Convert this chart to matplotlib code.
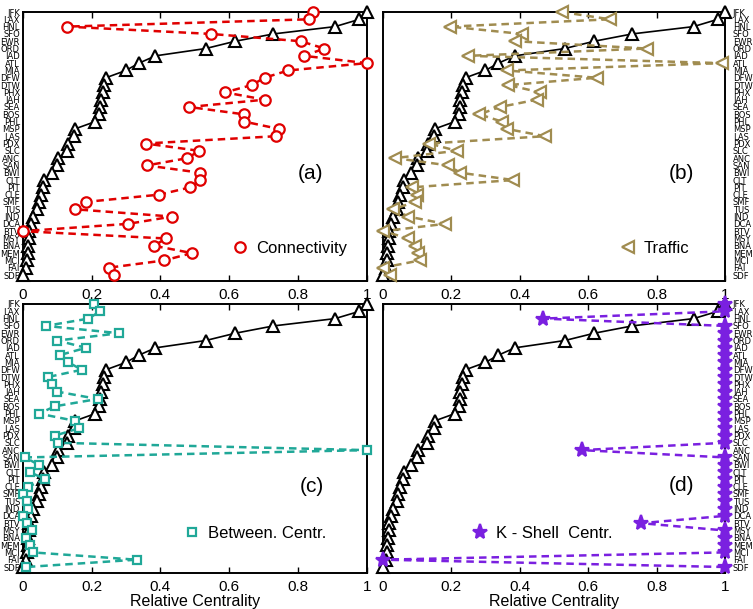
import numpy as np
import matplotlib
matplotlib.use('Agg')
import matplotlib.pyplot as plt
from matplotlib.lines import Line2D

plt.rcParams['font.family'] = ['Liberation Sans', 'DejaVu Sans']

airports = ['JFK', 'LAX', 'HNL', 'SFO', 'EWR', 'ORD', 'IAD', 'ATL', 'MIA', 'DFW',
            'DTW', 'PHX', 'IAH', 'SEA', 'BOS', 'PHL', 'MSP', 'LAS', 'PDX', 'SLC',
            'ANC', 'SAN', 'BWI', 'CLT', 'PIT', 'CLE', 'SMF', 'TUS', 'IND', 'DCA',
            'BTV', 'MSY', 'BNA', 'MEM', 'MCI', 'FAI', 'SDF']

# reference curve (black triangles), same in every panel
reference = [1.0, 0.979, 0.908, 0.729, 0.618, 0.532, 0.386, 0.338, 0.300, 0.242,
             0.236, 0.232, 0.227, 0.225, 0.223, 0.211, 0.152, 0.149, 0.133, 0.130,
             0.104, 0.099, 0.084, 0.063, 0.058, 0.052, 0.046, 0.041, 0.029, 0.024,
             0.019, 0.017, 0.015, 0.014, 0.013, 0.010, 0.0]

connectivity = [0.843, 0.832, 0.128, 0.547, 0.808, 0.877, 0.818, 1.0, 0.772, 0.703,
                0.666, 0.588, 0.703, 0.484, 0.642, 0.644, 0.744, 0.737, 0.357, 0.513,
                0.479, 0.361, 0.516, 0.516, 0.487, 0.397, 0.183, 0.151, 0.434, 0.306,
                0.0, 0.416, 0.382, 0.492, 0.412, 0.250, 0.265]

traffic = [0.523, 0.664, 0.197, 0.406, 0.387, 0.771, 0.250, 0.990, 0.362, 0.625,
           0.367, 0.460, 0.450, 0.343, 0.282, 0.348, 0.362, 0.474, 0.136, 0.216,
           0.036, 0.192, 0.226, 0.382, 0.085, 0.099, 0.094, 0.031, 0.075, 0.182,
           0.002, 0.075, 0.094, 0.104, 0.109, 0.0, 0.021]

betweenness = [0.208, 0.225, 0.191, 0.067, 0.281, 0.101, 0.184, 0.107, 0.133, 0.172,
               0.073, 0.086, 0.101, 0.218, 0.094, 0.047, 0.153, 0.164, 0.095, 0.102,
               1.0, 0.007, 0.046, 0.021, 0.065, 0.016, 0.002, 0.012, 0.016, 0.0,
               0.012, 0.026, 0.010, 0.021, 0.029, 0.331, 0.010]

kshell = [1.0, 1.0, 0.469, 1.0, 1.0, 1.0, 1.0, 1.0, 1.0, 1.0,
          1.0, 1.0, 1.0, 1.0, 1.0, 1.0, 1.0, 1.0, 1.0, 1.0,
          0.581, 1.0, 1.0, 1.0, 1.0, 1.0, 1.0, 1.0, 1.0, 1.0,
          0.755, 1.0, 1.0, 1.0, 1.0, 0.0, 1.0]

rows = np.arange(len(airports))

W, H = 753, 609
fig = plt.figure(figsize=(W / 100, H / 100), dpi=100)

def px_axes(left, right, top, bottom):
    return fig.add_axes([left / W, 1 - bottom / H, (right - left) / W, (bottom - top) / H])

panels = [
    # rect, values, marker, size, color, label, ylabels side, tag, tag pos, legend anchor
    ((22.7, 366.7, 12, 281), connectivity, 'o', 7.5, '#e00000', 'Connectivity',
     'left', '(a)', (0.837, 0.401), (0.6076, 0.1216), False),
    ((382.7, 725, 12, 281), traffic, '<', 9, '#a08c50', 'Traffic',
     'right', '(b)', (0.8735, 0.401), (0.693, 0.1216), False),
    ((22.7, 366.7, 304, 573), betweenness, 's', 5.5, '#20a898', 'Between. Centr.',
     'left', '(c)', (0.84, 0.32), (0.467, 0.1476), True),
    ((382.7, 725, 304, 573), kshell, '*', 11, '#7a20e0', 'K - Shell  Centr.',
     'right', '(d)', (0.8735, 0.327), (0.26, 0.1476), True),
]

for rect, vals, mk, ms, col, lab, side, tag, tagpos, legpos, bottom_row in panels:
    ax = px_axes(*rect)
    ax.plot(reference, rows, '-', color='black', lw=1.2, marker='^', ms=9,
            mfc='white', mec='black', mew=1.5, clip_on=False, zorder=3)
    face = col if mk == '*' else 'white'
    ax.plot(vals, rows, '--', color=col, lw=1.8, dashes=(3, 2), marker=mk,
            ms=ms, mfc=face, mec=col, mew=1.6, clip_on=False, zorder=4)
    ax.set_xlim(0, 1)
    ax.set_ylim(36.82, 0.27)
    ax.set_xticks([0, 0.2, 0.4, 0.6, 0.8, 1.0])
    ax.set_xticklabels(['0', '0.2', '0.4', '0.6', '0.8', '1'], fontsize=11)
    ax.tick_params(axis='x', direction='in', top=True, length=4, width=1, pad=5)
    ax.set_yticks(rows)
    ax.set_yticklabels(airports, fontsize=6,
                       fontfamily=['Liberation Sans Narrow', 'DejaVu Sans'])
    ax.tick_params(axis='y', length=0, pad=2)
    if side == 'right':
        ax.yaxis.tick_right()
        ax.tick_params(axis='y', length=0, pad=5.5)
    for sp in ax.spines.values():
        sp.set_linewidth(1.4)
    ax.text(tagpos[0], tagpos[1], tag, transform=ax.transAxes, fontsize=15,
            ha='center', va='center')
    proxy = Line2D([], [], ls='none', marker=mk, ms=ms, mfc=face, mec=col, mew=1.6)
    ax.legend([proxy], [lab], loc='center left', bbox_to_anchor=legpos, frameon=False,
              fontsize=12, handlelength=1.0, handletextpad=0.45, borderpad=0,
              borderaxespad=0, numpoints=1)
    if bottom_row:
        ax.set_xlabel('Relative Centrality', fontsize=11.5, labelpad=0)

fig.savefig('out.png', dpi=100)
